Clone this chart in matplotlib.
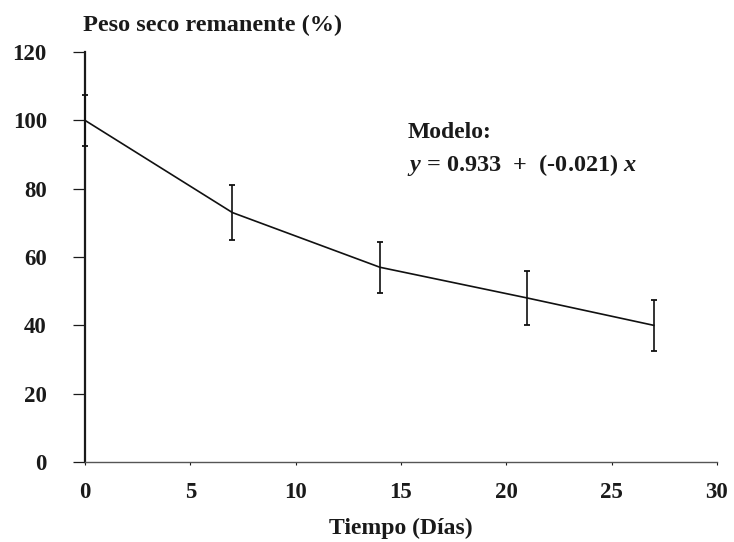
import numpy as np
import matplotlib.pyplot as plt

# remaining dry weight over time
dias = [0, 7, 14, 21, 27]
peso = [100, 73, 57, 48, 40]
error = [7.5, 8, 7.5, 8, 7.5]

x_ticks = [0, 5, 10, 15, 20, 25, 30]
y_ticks = [0, 20, 40, 60, 80, 100, 120]

plt.rcParams['font.family'] = ['Liberation Serif', 'DejaVu Serif']
plt.rcParams['font.weight'] = 'bold'
plt.rcParams['mathtext.fontset'] = 'custom'
plt.rcParams['mathtext.rm'] = 'Liberation Serif:bold'
plt.rcParams['mathtext.it'] = 'Liberation Serif:italic:bold'

fig = plt.figure(figsize=(7.34, 5.42), dpi=100)
ax = fig.add_axes([0.1158, 0.1476, 0.8610, 0.7564])

cont = ax.errorbar(dias, peso, yerr=error, color='#111111', lw=1.2,
                   elinewidth=1.2, capsize=2.5, capthick=1.3, zorder=5)
for art in cont.lines[1] + cont.lines[2]:
    art.set_clip_on(False)
cont.lines[0].set_clip_on(False)

ax.set_xlim(0, 30)
ax.set_ylim(0, 120)
ax.set_xticks(x_ticks)
ax.set_yticks(y_ticks)

ax.spines['top'].set_visible(False)
ax.spines['right'].set_visible(False)
ax.spines['left'].set_linewidth(1.6)
ax.spines['left'].set_color('#1a1a1a')
ax.spines['bottom'].set_linewidth(1.0)
ax.spines['bottom'].set_color('#555555')

ax.tick_params(axis='y', direction='out', length=8.5, width=0.9,
               pad=19, labelsize=16.5, colors='#1a1a1a')
ax.tick_params(axis='x', direction='out', length=2.5, width=0.8,
               pad=12, labelsize=16.5, colors='#1a1a1a')
for lab in ax.get_xticklabels() + ax.get_yticklabels():
    lab.set_fontweight('bold')

fig.text(83 / 734, 1 - 25 / 542, 'Peso seco remanente (%)', fontsize=17.5,
         fontweight='bold', ha='left', va='center', color='#1a1a1a')
fig.text(401 / 734, 1 - 528 / 542, 'Tiempo (Días)', fontsize=17,
         fontweight='bold', ha='center', va='center', color='#1a1a1a')

ax.text(15.3, 96.5, 'Modelo:', fontsize=17, fontweight='bold',
        ha='left', va='center', color='#1a1a1a')
ax.text(15.3, 87.0, r'$y$ = 0.933  +  (-0.021) $x$', fontsize=17.5,
        fontweight='bold', ha='left', va='center', color='#1a1a1a')

fig.savefig('out.png', dpi=100)
